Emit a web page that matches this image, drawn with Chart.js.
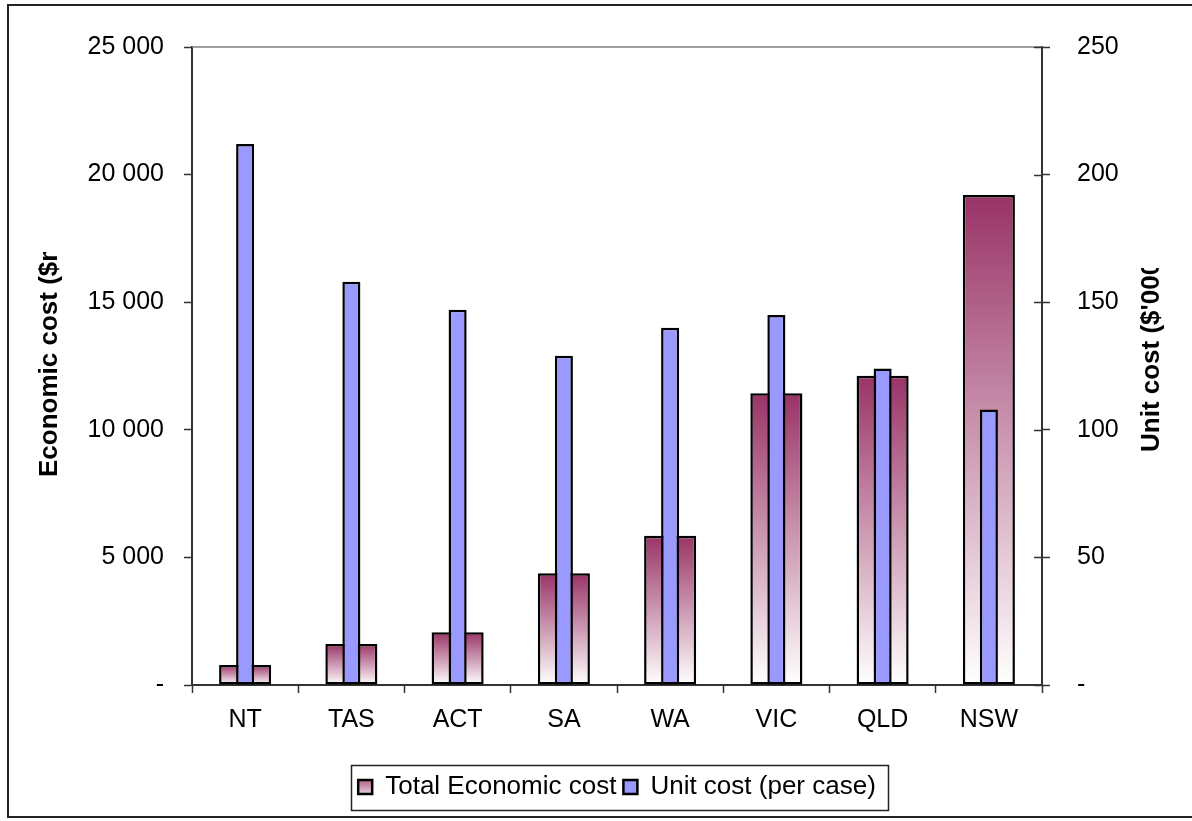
<!DOCTYPE html>
<html>
<head>
<meta charset="utf-8">
<script src="https://cdn.jsdelivr.net/npm/chart.js@4/dist/chart.umd.min.js"></script>
<style>
  html, body { margin: 0; padding: 0; background: #ffffff; }
  canvas { display: block; }
</style>
</head>
<body>
<canvas id="chart" width="1192" height="821"></canvas>
<script>
// States, ordered by total economic cost
const states = ['NT', 'TAS', 'ACT', 'SA', 'WA', 'VIC', 'QLD', 'NSW'];
// Total economic cost ($m)
const totalEconomicCost = [780, 1610, 2070, 4380, 5850, 11430, 12120, 19200];
// Unit cost per case ($'000)
const unitCostPerCase = [212, 158, 147, 129, 140, 145, 124, 108];
// Axis tick values
const leftTickValues = [0, 5000, 10000, 15000, 20000, 25000];
const rightTickValues = [0, 50, 100, 150, 200, 250];

const FONT = '"Liberation Sans", Arial, sans-serif';
const AXIS = '#333333';
const MAROON = '#993366';
const PERIWINKLE = '#9999ff';

function fmtThousands(v) {
  if (v === 0) return '-';
  return String(v).replace(/\B(?=(\d{3})+(?!\d))/g, ' ');
}

function maroonGradient(ctx, top, bottom) {
  const g = ctx.createLinearGradient(0, top, 0, bottom);
  g.addColorStop(0, MAROON);
  g.addColorStop(1, '#ffffff');
  return g;
}

const decorations = {
  id: 'decorations',
  beforeDraw(chart) {
    const c = chart.ctx;
    c.save();
    c.fillStyle = '#ffffff';
    c.fillRect(0, 0, chart.width, chart.height);
    // outer chart frame
    c.strokeStyle = '#222222';
    c.lineWidth = 2;
    c.strokeRect(8, 5, chart.width + 20, chart.height - 9);
    c.restore();
  },
  afterUpdate(chart) {
    // legend swatch for the gradient series
    const lg = chart.legend;
    if (!lg || !lg.legendItems) return;
    lg.legendItems.forEach((item, i) => {
      const hb = lg.legendHitBoxes[i];
      if (item.datasetIndex === 0 && hb) {
        item.fillStyle = maroonGradient(chart.ctx, hb.top, hb.top + hb.height);
      }
    });
  },
  beforeDatasetsDraw(chart) {
    const {ctx: c, chartArea: a} = chart;
    c.save();
    // plot area top edge
    c.strokeStyle = '#808080';
    c.lineWidth = 1.5;
    c.beginPath();
    c.moveTo(a.left, a.top);
    c.lineTo(a.right, a.top);
    c.stroke();
    c.restore();
  },
  afterDraw(chart) {
    const {ctx: c, chartArea: a} = chart;
    c.save();
    // inner half of the right-axis tick marks
    const y1 = chart.scales.y1;
    c.strokeStyle = AXIS;
    c.lineWidth = 1.5;
    rightTickValues.forEach(v => {
      const py = Math.round(y1.getPixelForValue(v)) + 0.5;
      c.beginPath();
      c.moveTo(a.right - 8, py);
      c.lineTo(a.right, py);
      c.stroke();
    });

    // axis titles
    c.fillStyle = '#000000';
    c.font = 'bold 26px ' + FONT;
    c.textAlign = 'left';
    c.textBaseline = 'middle';

    c.save();
    c.beginPath();
    c.rect(0, 252, 140, chart.height);
    c.clip();
    c.translate(50, 477);
    c.rotate(-Math.PI / 2);
    c.fillText('Economic cost ($m)', 0, 0);
    c.restore();

    c.save();
    c.beginPath();
    c.rect(1090, 268, 120, chart.height);
    c.clip();
    c.translate(1152, 452);
    c.rotate(-Math.PI / 2);
    c.fillText("Unit cost ($'000)", 0, 0);
    c.restore();

    // legend frame
    const lg = chart.legend;
    if (lg && lg.legendHitBoxes && lg.legendHitBoxes.length) {
      const hbs = lg.legendHitBoxes;
      const left = Math.min(...hbs.map(h => h.left)) - 7;
      const right = Math.max(...hbs.map(h => h.left + h.width)) + 12;
      const cy = hbs[0].top + hbs[0].height / 2;
      c.strokeStyle = '#222222';
      c.lineWidth = 1.5;
      c.strokeRect(Math.round(left) + 0.5, Math.round(cy - 22) + 0.5, Math.round(right - left), 45);
    }
    c.restore();
  }
};

const LEGEND_GAP_BELOW = 11;

new Chart(document.getElementById('chart'), {
  type: 'bar',
  data: {
    labels: states,
    datasets: [
      {
        label: 'Total Economic cost',
        data: totalEconomicCost,
        yAxisID: 'y',
        order: 1,
        grouped: false,
        categoryPercentage: 1,
        barPercentage: 0.49,
        borderColor: '#000000',
        borderWidth: 2.5,
        borderSkipped: false,
        backgroundColor(ctx) {
          const chart = ctx.chart;
          if (ctx.type !== 'data' || !chart.chartArea) return MAROON;
          const s = chart.scales.y;
          return maroonGradient(chart.ctx, s.getPixelForValue(ctx.raw), s.getPixelForValue(0));
        }
      },
      {
        label: 'Unit cost (per case)',
        data: unitCostPerCase,
        yAxisID: 'y1',
        order: 0,
        grouped: false,
        categoryPercentage: 1,
        barPercentage: 0.17,
        borderColor: '#000000',
        borderWidth: 2.5,
        borderSkipped: false,
        backgroundColor: PERIWINKLE
      }
    ]
  },
  options: {
    responsive: false,
    animation: false,
    devicePixelRatio: 1,
    layout: { padding: { left: 72, right: 30, top: 47, bottom: LEGEND_GAP_BELOW } },
    plugins: {
      tooltip: { enabled: false },
      legend: {
        position: 'bottom',
        labels: {
          color: '#000000',
          font: { family: FONT, size: 26 },
          boxWidth: 14,
          boxHeight: 14,
          padding: 7,
          sort: (a, b) => a.datasetIndex - b.datasetIndex
        }
      }
    },
    scales: {
      x: {
        offset: true,
        grid: {
          offset: true,
          drawOnChartArea: false,
          drawTicks: true,
          tickLength: 8,
          tickColor: AXIS,
          tickWidth: 1.5
        },
        border: { color: AXIS, width: 2 },
        ticks: { color: '#000000', font: { family: FONT, size: 25 }, padding: 12, maxRotation: 0 },
        afterFit(s) {
          const lgH = s.chart.legend ? s.chart.legend.height : 44;
          s.height = 821 - 685 - lgH - LEGEND_GAP_BELOW;
        }
      },
      y: {
        position: 'left',
        min: 0,
        max: 25000,
        afterBuildTicks(s) { s.ticks = leftTickValues.map(v => ({ value: v })); },
        grid: { drawOnChartArea: false, tickLength: 8, tickColor: AXIS, tickWidth: 1.5 },
        border: { color: AXIS, width: 2 },
        ticks: {
          color: '#000000',
          font: { family: FONT, size: 25 },
          padding: 20,
          callback: v => fmtThousands(v)
        },
        afterFit(s) { s.width = 120; }
      },
      y1: {
        position: 'right',
        min: 0,
        max: 250,
        afterBuildTicks(s) { s.ticks = rightTickValues.map(v => ({ value: v })); },
        grid: { drawOnChartArea: false, tickLength: 8, tickColor: AXIS, tickWidth: 1.5 },
        border: { color: AXIS, width: 2 },
        ticks: {
          color: '#000000',
          font: { family: FONT, size: 25 },
          padding: 27,
          callback: v => fmtThousands(v)
        },
        afterFit(s) { s.width = 120; }
      }
    }
  },
  plugins: [decorations]
});
</script>
</body>
</html>
